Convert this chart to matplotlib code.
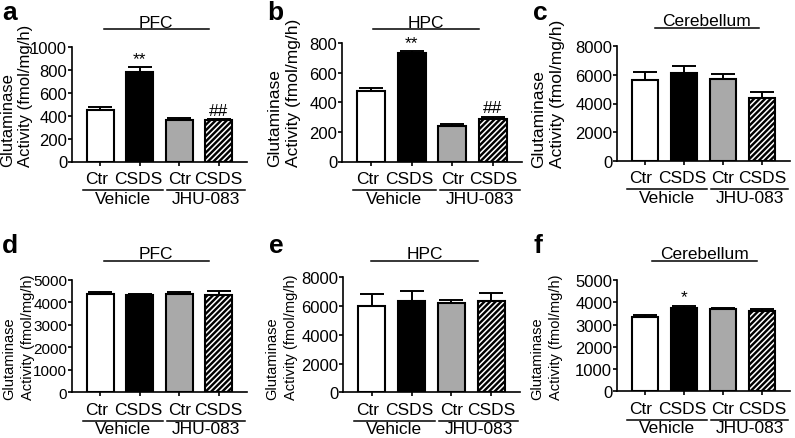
import numpy as np
import matplotlib
matplotlib.use("Agg")
import matplotlib.pyplot as plt
from matplotlib.transforms import ScaledTranslation

plt.rcParams['font.family'] = ['Liberation Sans', 'DejaVu Sans']
plt.rcParams['hatch.linewidth'] = 1.1

# data
groups = ["Ctr", "CSDS", "Ctr", "CSDS"]
treatments = ["Vehicle", "JHU-083"]
regions = ["PFC", "HPC", "Cerebellum", "PFC", "HPC", "Cerebellum"]
letters = ["a", "b", "c", "d", "e", "f"]
ylab_lines = ["Glutaminase", "Activity (fmol/mg/h)"]

a_mean = [455, 785, 365, 362]
a_err = [18, 40, 15, 10]
b_mean = [480, 734, 242, 288]
b_err = [16, 13, 14, 14]
c_mean = [5670, 6140, 5740, 4410]
c_err = [560, 510, 330, 380]
d_mean = [4355, 4325, 4355, 4340]
d_err = [100, 45, 130, 160]
e_mean = [6020, 6350, 6210, 6350]
e_err = [820, 720, 230, 560]
f_mean = [3340, 3720, 3690, 3590]
f_err = [70, 130, 45, 90]

means = [a_mean, b_mean, c_mean, d_mean, e_mean, f_mean]
errs = [a_err, b_err, c_err, d_err, e_err, f_err]
ymax = [1000, 800, 8000, 5000, 8000, 5000]
ystep = [200, 200, 2000, 1000, 2000, 1000]
marks = [{1: "**", 3: "##"}, {1: "**", 3: "##"}, {}, {}, {}, {1: "*"}]

# axes boxes in pixels: left, right, bottom(y from top), top(y from top)
boxes = [(72, 247, 162.5, 48.3), (342, 522, 162.5, 44.3), (617, 790, 161.7, 47.3),
         (72, 247, 393.3, 281), (343, 520, 393.3, 278.3), (617, 790, 392.3, 281)]
letter_pos = [(2, 20), (267, 20), (533, 20), (2, 253), (269, 253), (534, 253)]
title_y = [30, 30, 29, 262, 262, 262]
title_span = [(0.18, 0.78), (0.17, 0.76), (0.22, 0.82), (0.18, 0.78), (0.16, 0.76), (0.20, 0.81)]
ylab_right = [33, 301, 565, 35, 298, 563]     # px, right edge of y label
ylab_bottom = [167, 167, 168, 400, 400, 400]  # px, lower end of y label
ylab_gap = [17.5, 19, 19, 18.5, 19, 19]
ylab_fs = [12, 12.5, 12.5, 10.5, 10.5, 10.5]
ytick_fs = [12, 12, 12, 11, 12, 12]
label_dx = [-4, -2, 0, 0]

W, H = 795, 439
fig = plt.figure(figsize=(W / 100, H / 100), dpi=100)

colors = ["white", "black", "#a9a9a9", "black"]
x = np.arange(4)
fs = 12.5

for i in range(6):
    l, r, b, t = boxes[i]
    ax = fig.add_axes([l / W, 1 - b / H, (r - l) / W, (b - t) / H])
    ax.set_xlim(-0.72, 3.72)
    ax.set_ylim(0, ymax[i])
    for s in ["top", "right"]:
        ax.spines[s].set_visible(False)
    for s in ["left", "bottom"]:
        ax.spines[s].set_linewidth(1.2)

    m = np.array(means[i])
    e = np.array(errs[i])
    ax.errorbar(x, m, yerr=[np.zeros(4), e], fmt="none", ecolor="black",
                elinewidth=1.4, capsize=8.5, capthick=1.4, zorder=1)
    ax.bar(x[:3], m[:3], width=0.68, color=colors[:3], edgecolor="black",
           linewidth=1.5, zorder=2)
    # hatched bar: white stripes on black
    ax.bar(x[3], m[3], width=0.68, color="black", edgecolor="white",
           hatch="//////", linewidth=0, zorder=2)
    ax.bar(x[3], m[3], width=0.68, fill=False, edgecolor="black",
           linewidth=1.5, zorder=3)

    ax.set_yticks(np.arange(0, ymax[i] + 1, ystep[i]))
    ax.set_xticks(x)
    ax.set_xticklabels([])
    ax.tick_params(axis="both", direction="out", length=3, width=1.2, pad=0.5)
    ax.tick_params(axis="y", labelsize=ytick_fs[i])

    # group labels under the ticks
    for k in range(4):
        ax.text(x[k], 0, groups[k], ha="center", va="top", fontsize=fs,
                transform=ax.get_xaxis_transform()
                + ScaledTranslation(label_dx[k] / 100, -9.5 / 100, fig.dpi_scale_trans))

    for k, txt in marks[i].items():
        ax.annotate(txt, (x[k], m[k] + e[k]), xytext=(0, 1),
                    textcoords="offset points", ha="center", va="bottom",
                    fontsize=fs)

    # y label: two rotated lines, bottom aligned
    for j, line in enumerate(ylab_lines):
        xr = ylab_right[i] - (1 - j) * ylab_gap[i]
        fig.text(xr / W, 1 - ylab_bottom[i] / H, line, rotation=90,
                 rotation_mode="anchor", ha="left", va="bottom",
                 fontsize=ylab_fs[i])

    # region title with line
    off = (b - t)
    ty = (b - title_y[i]) / off
    x0, x1 = title_span[i]
    ax.plot([x0, x1], [ty, ty], color="black", lw=1.1,
            transform=ax.transAxes, clip_on=False)
    ax.text((x0 + x1) / 2, ty + 2.5 / off, regions[i], ha="center",
            va="baseline", fontsize=fs, transform=ax.transAxes)

    # treatment underlines and labels
    tr = ax.transAxes + ScaledTranslation(0, -28.5 / 100, fig.dpi_scale_trans)
    for (s0, s1), name in zip([(0.06, 0.52), (0.545, 0.99)], treatments):
        ax.plot([s0, s1], [0, 0], color="black", lw=1.1, transform=tr,
                clip_on=False)
        ax.text((s0 + s1) / 2, 0, name, ha="center", va="top", fontsize=fs,
                transform=tr + ScaledTranslation(0, -0.5 / 100, fig.dpi_scale_trans))

    fig.text(letter_pos[i][0] / W, 1 - letter_pos[i][1] / H, letters[i],
             fontsize=19, fontweight="bold", ha="left", va="baseline")

fig.savefig("out.png", dpi=100)
